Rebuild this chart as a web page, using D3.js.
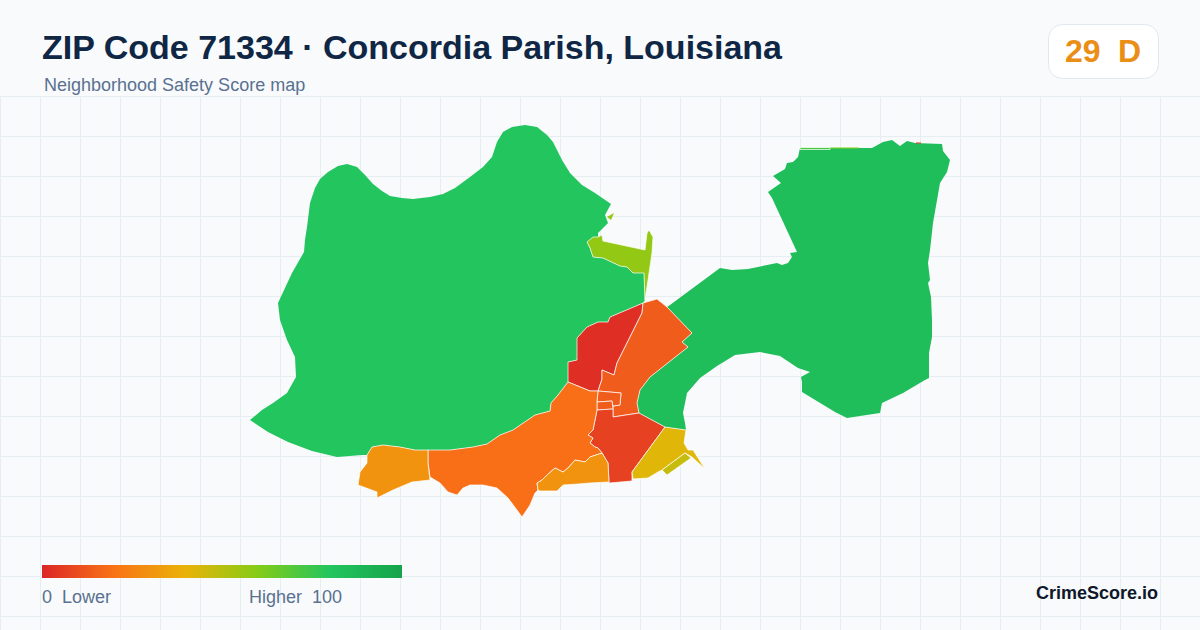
<!DOCTYPE html>
<html>
<head>
<meta charset="utf-8">
<script src="https://cdn.jsdelivr.net/npm/d3@7"></script>
<style>
  html, body { margin: 0; padding: 0; background: #f8fafc; }
  svg { display: block; font-family: "Liberation Sans", Arial, sans-serif; }
</style>
</head>
<body>
<script>
const zipTitle = 'ZIP Code 71334 · Concordia Parish, Louisiana';
const subTitle = 'Neighborhood Safety Score map';
const zipScore = 29;
const zipGrade = 'D';

// colour ramp of the score
const rampStops = [0, 20, 40, 60, 80, 100];
const rampColours = ['#dc2626', '#f97316', '#eab308', '#84cc16', '#22c55e', '#16a34a'];

// neighbourhood scores, same order as the outlines below
const scores = [80, 84, 57, 2, 14, 14, 14, 7, 19, 30, 30, 42, 47, 57, 60, 72, 3];

// traced outlines in map units
const westOutline = [[525,125],[537,127],[547,135],[553,142],[562,160],[570,173],[582,185],[595,193],[611,204],[605,215],[608,223],[598,233],[598,237],[587,242],[590,248],[593,257],[603,258],[620,266],[627,267],[633,273],[644,273],[645,300],[643,303],[610,317],[608,322],[598,322],[587,327],[577,338],[577,360],[568,362],[568,382],[558,395],[551,403],[550,411],[535,415],[513,430],[500,435],[487,444],[473,447],[450,450],[428,450],[415,450],[400,447],[383,445],[372,447],[367,455],[362,455],[337,457],[312,451],[288,442],[268,432],[250,420],[262,410],[273,403],[287,393],[296,377],[295,357],[287,340],[280,320],[278,303],[292,273],[304,252],[305,240],[307,227],[310,203],[315,188],[320,179],[328,172],[338,166],[347,164],[357,167],[365,175],[373,184],[382,191],[390,196],[402,198],[413,199],[430,197],[443,194],[455,188],[470,177],[483,167],[492,157],[497,142],[503,132],[512,127]];
const eastOutline = [[667,307],[670,305],[720,268],[732,270],[748,269],[777,263],[782,265],[788,263],[792,257],[790,253],[797,252],[772,198],[768,192],[781,183],[773,176],[785,169],[787,163],[793,162],[798,157],[800,148],[872,148],[883,142],[892,140],[900,146],[907,141],[915,143],[942,144],[943,151],[950,160],[947,172],[940,183],[933,223],[930,250],[928,263],[930,280],[928,283],[931,297],[932,320],[932,337],[929,353],[929,378],[925,380],[903,393],[882,403],[880,413],[860,416],[847,418],[835,412],[802,392],[802,382],[801,377],[810,372],[798,368],[780,356],[760,352],[735,355],[717,366],[700,378],[687,393],[683,413],[685,423],[686,430],[665,427],[639,413],[637,403],[640,390],[650,377],[688,347],[682,342],[692,333]];
const limeOutline = [[587,242],[593,237],[598,237],[602,235],[603,241],[645,250],[647,233],[649,230],[653,237],[652,253],[648,280],[645,300],[644,273],[633,273],[627,267],[620,266],[603,258],[593,257],[590,248]];
const redOutline = [[643,303],[610,317],[608,322],[598,322],[587,327],[577,338],[577,360],[568,362],[568,382],[590,391],[598,391],[602,379],[602,370],[614,375],[617,363],[630,337],[642,313]];
const northeastOutline = [[657,299],[643,303],[642,313],[630,337],[617,363],[614,375],[602,370],[602,379],[598,391],[621,393],[620,405],[613,406],[613,417],[639,413],[637,403],[640,390],[650,377],[688,347],[682,342],[692,333],[667,307]];
const blockUpper = [[598,391],[621,393],[620,405],[613,406],[612,401],[597,402]];
const blockLower = [[597,402],[612,401],[613,409],[597,410]];
const centreOutline = [[597,410],[613,409],[613,417],[639,413],[665,427],[632,472],[632,481],[609,483],[608,463],[602,453],[598,448],[595,447],[590,443],[593,438],[588,435],[593,430],[595,420]];
const southwestOutline = [[428,450],[450,450],[473,447],[487,444],[500,435],[513,430],[535,415],[550,411],[551,403],[558,395],[568,382],[590,391],[598,391],[597,402],[597,410],[595,420],[593,430],[588,435],[593,438],[590,443],[595,447],[598,448],[602,453],[590,457],[585,462],[575,460],[568,468],[563,472],[555,468],[547,475],[542,480],[537,483],[538,490],[535,493],[530,505],[522,517],[517,510],[508,498],[497,488],[483,485],[470,485],[463,488],[457,495],[448,492],[440,483],[430,477],[428,463]];
const westOrangeOutline = [[383,445],[372,447],[367,455],[367,463],[360,472],[358,485],[377,492],[377,498],[393,490],[412,482],[430,480],[428,463],[428,450],[415,450],[400,447]];
const southOutline = [[602,453],[608,463],[609,482],[590,483],[578,484],[563,485],[557,491],[540,491],[538,490],[537,483],[542,480],[547,475],[555,468],[563,472],[568,468],[575,460],[585,462],[590,457]];
const yellowOutline = [[665,427],[686,430],[684,443],[688,450],[693,450],[705,469],[692,457],[685,453],[662,470],[658,472],[648,478],[633,479],[632,472]];
const oliveOutline = [[685,453],[691,458],[667,475],[662,470]];
const limeSliver = [[607,217],[614,213],[611,220]];
const topLimeStrip = [[830,147.5],[859,147.5],[859,148.5],[830,148.5]];
const topGreenStrip = [[800,147.5],[830,147.5],[830,149.5],[800,149.5]];
const topRedStrip = [[916,142.5],[921,142.5],[921,143.5],[916,143.5]];

const outlines = [westOutline, eastOutline, limeOutline, redOutline, northeastOutline, blockUpper, blockLower, centreOutline, southwestOutline, westOrangeOutline, southOutline, yellowOutline, oliveOutline, limeSliver, topLimeStrip, topGreenStrip, topRedStrip];

const width = 1200, height = 630;
const svg = d3.select('body').append('svg').attr('width', width).attr('height', height);

// background and grid
svg.append('rect').attr('width', width).attr('height', height).attr('fill', '#f8fafc');
const grid = svg.append('g').attr('stroke', '#e6eef2').attr('stroke-width', 1);
grid.selectAll('.v').data(d3.range(0, width, 40)).join('line')
  .attr('x1', d => d + 0.5).attr('x2', d => d + 0.5).attr('y1', 96).attr('y2', height);
grid.selectAll('.h').data(d3.range(96, height, 40)).join('line')
  .attr('x1', 0).attr('x2', width).attr('y1', d => d + 0.5).attr('y2', d => d + 0.5);

// map
const colour = d3.scaleLinear().domain(rampStops).range(rampColours);
const features = outlines.map((ring, i) => ({
  type: 'Feature',
  properties: { score: scores[i] },
  geometry: { type: 'Polygon', coordinates: [ring.concat([ring[0]])] }
}));
const collection = { type: 'FeatureCollection', features: features };
const projection = d3.geoIdentity().fitExtent([[250, 125], [950, 517]], collection);
const path = d3.geoPath(projection);

// green parts carry no border, the small slivers neither
svg.append('g').selectAll('path').data(features).join('path')
  .attr('d', path)
  .attr('fill', d => colour(d.properties.score))
  .attr('stroke', d => d.properties.score >= 76 || path.area(d) < 40 ? 'none' : '#fff')
  .attr('stroke-width', 0.7)
  .attr('stroke-linejoin', 'round');

// header
svg.append('text').attr('x', 42).attr('y', 59).attr('font-size', 34).attr('font-weight', 700)
  .attr('fill', '#0f2744').text(zipTitle);
svg.append('text').attr('x', 44).attr('y', 91).attr('font-size', 18).attr('fill', '#5a7190').text(subTitle);

// score badge
svg.append('rect').attr('x', 1048.5).attr('y', 24.5).attr('width', 110).attr('height', 54).attr('rx', 14)
  .attr('fill', '#fff').attr('stroke', '#e2e8f0');
svg.append('text').attr('x', 1065).attr('y', 62).attr('font-size', 32).attr('font-weight', 700)
  .attr('fill', '#ea8e16').text(zipScore);
svg.append('text').attr('x', 1118).attr('y', 62).attr('font-size', 32).attr('font-weight', 700)
  .attr('fill', '#ea8e16').text(zipGrade);

// legend
const legendX = d3.scaleLinear().domain([0, 100]).range([42, 402]);
const grad = svg.append('defs').append('linearGradient').attr('id', 'ramp');
grad.selectAll('stop').data(rampStops).join('stop')
  .attr('offset', d => d + '%')
  .attr('stop-color', d => colour(d));
svg.append('rect').attr('x', legendX(0)).attr('y', 565).attr('width', legendX(100) - legendX(0)).attr('height', 13)
  .attr('fill', 'url(#ramp)');
const legendText = svg.append('g').attr('font-size', 18).attr('fill', '#5a7190');
legendText.append('text').attr('x', 42).attr('y', 603).style('white-space', 'pre').text('0  Lower');
legendText.append('text').attr('x', 342).attr('y', 603).attr('text-anchor', 'end').style('white-space', 'pre').text('Higher  100');

svg.append('text').attr('x', 1158).attr('y', 599).attr('text-anchor', 'end').attr('font-size', 18).attr('font-weight', 700)
  .attr('fill', '#0f172a').text('CrimeScore.io');
</script>
</body>
</html>
